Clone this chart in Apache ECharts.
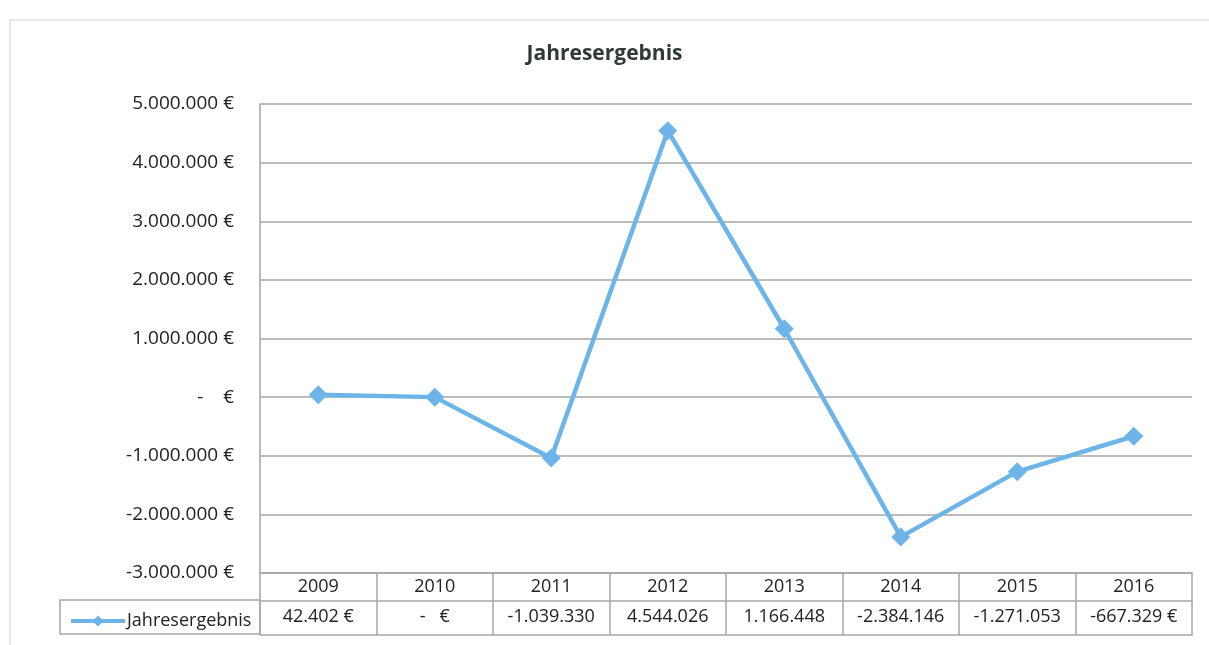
<!DOCTYPE html>
<html>
<head>
<meta charset="utf-8">
<script src="https://cdn.jsdelivr.net/npm/echarts@6/dist/echarts.min.js"></script>
<style>
  html, body { margin: 0; padding: 0; background: #fff; }
  #chart { width: 1209px; height: 645px; }
</style>
</head>
<body>
<div id="chart"></div>
<script>
const years = ['2009', '2010', '2011', '2012', '2013', '2014', '2015', '2016'];
const result = [42402, 0, -1039330, 4544026, 1166448, -2384146, -1271053, -667329];
// text shown in the data table row (as printed in the reference)
const tableLabels = ['42.402 €', '-   €', '-1.039.330', '4.544.026', '1.166.448', '-2.384.146', '-1.271.053', '-667.329 €'];

const FONT = '"Open Sans", sans-serif';
const LINE = '#6db5e9';
const GRID = '#a6a6a6';

function euro(v) {
    if (v === 0) return '-    €';
    const s = Math.abs(v).toFixed(0).replace(/\B(?=(\d{3})+(?!\d))/g, '.');
    return (v < 0 ? '-' : '') + s + ' €';
}

const chart = echarts.init(document.getElementById('chart'));
chart.setOption({
    backgroundColor: '#fff',
    textStyle: { fontFamily: FONT },
    title: {
        text: 'Jahresergebnis',
        left: 'center',
        top: 39,
        textStyle: { fontSize: 21, fontWeight: 'bold', color: '#2f3b35', fontFamily: FONT }
    },
    legend: {
        left: 64,
        top: 607,
        itemWidth: 54,
        itemHeight: 14,
        itemGap: 4,
        lineStyle: { width: 4 },
        textStyle: { fontSize: 18, color: '#222', fontFamily: FONT, padding: [0, 0, 0, -3] },
        data: ['Jahresergebnis']
    },
    grid: { left: 260, right: 17, top: 104, height: 469, containLabel: false },
    xAxis: [
        {
            type: 'category',
            data: years,
            boundaryGap: true,
            axisLine: { show: true, onZero: false, lineStyle: { color: GRID, width: 1.5 } },
            axisTick: { show: true, length: 62, interval: 0, lineStyle: { color: GRID, width: 1.5 } },
            axisLabel: { margin: 5, fontSize: 18, color: '#222', fontFamily: FONT, interval: 0 }
        },
        {
            type: 'category',
            data: tableLabels,
            position: 'bottom',
            offset: 28,
            boundaryGap: true,
            axisLine: { show: true, onZero: false, lineStyle: { color: GRID, width: 1.5 } },
            axisTick: { show: false },
            axisLabel: { margin: 7, fontSize: 18, color: '#222', fontFamily: FONT, interval: 0 }
        },
        {
            type: 'category',
            data: years,
            position: 'bottom',
            offset: 62,
            axisLine: { show: true, onZero: false, lineStyle: { color: GRID, width: 1.5 } },
            axisTick: { show: false },
            axisLabel: { show: false }
        }
    ],
    yAxis: {
        type: 'value',
        min: -3000000,
        max: 5000000,
        interval: 1000000,
        axisLine: { show: true, lineStyle: { color: GRID, width: 1.5 } },
        axisTick: { show: false },
        splitLine: { show: true, lineStyle: { color: GRID, width: 1.5 } },
        axisLabel: { margin: 26, fontSize: 19, color: '#222', fontFamily: FONT, formatter: euro }
    },
    graphic: [
        {
            type: 'rect',
            shape: { x: 60, y: 600, width: 200, height: 34 },
            style: { fill: 'none', stroke: GRID, lineWidth: 1.5 },
            silent: true
        },
        {
            type: 'rect',
            shape: { x: 10, y: 20, width: 1205, height: 640 },
            style: { fill: 'none', stroke: '#d0d0d0', lineWidth: 1 },
            silent: true
        }
    ],
    series: [
        {
            name: 'Jahresergebnis',
            type: 'line',
            data: result,
            symbol: 'diamond',
            symbolSize: 19,
            itemStyle: { color: LINE },
            lineStyle: { color: LINE, width: 4.5 },
            z: 5
        }
    ]
});
</script>
</body>
</html>
